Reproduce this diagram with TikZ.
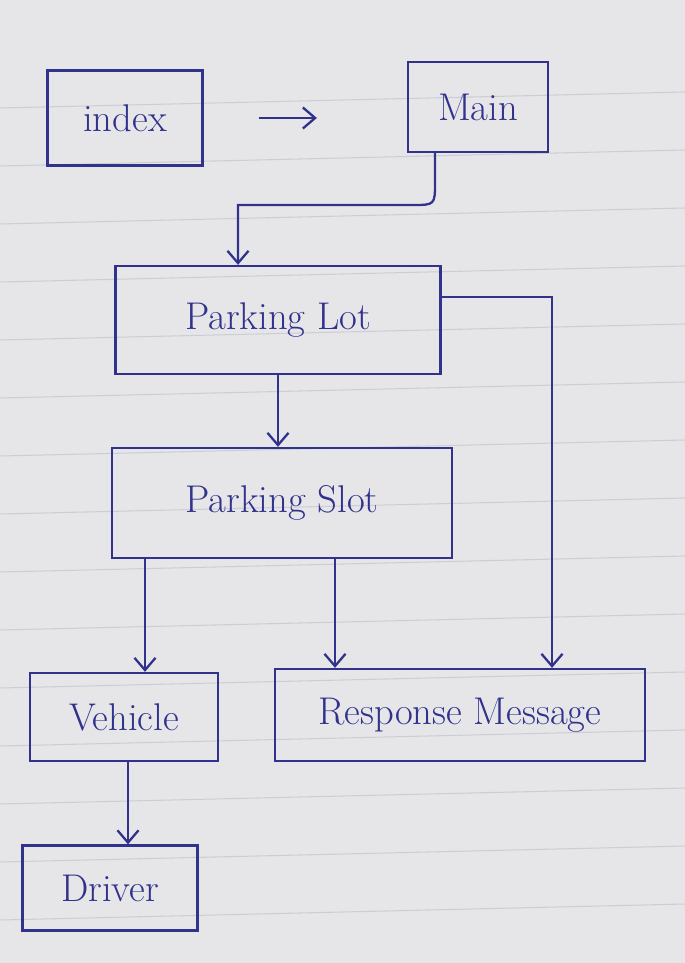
\documentclass[tikz,border=0pt]{standalone}
\usetikzlibrary{arrows.meta}
\definecolor{ink}{RGB}{48,50,140}
\definecolor{paper}{RGB}{230,230,233}
\definecolor{rule}{RGB}{205,206,212}
\tikzset{
  box/.style={draw=ink, line width=1.3pt, rectangle, text=ink, font=\fontsize{22}{26}\selectfont, inner sep=0pt},
  arr/.style={draw=ink, line width=1.3pt, -{Straight Barb[length=7pt,width=12pt]}},
}
\begin{document}
\begin{tikzpicture}[x=0.02cm, y=-0.02cm]
\fill[paper] (0,0) rectangle (685,963);
\useasboundingbox (0,0) rectangle (685,963);
\foreach \yy in {108,166,224,282,340,398,456,514,572,630,688,746,804,862,920}
  \draw[rule, line width=0.6pt] (0,\yy) -- (685,\yy-16);

\node[box, minimum width=155*0.02cm, minimum height=95*0.02cm] (index) at (125,118) {index};
\node[box, minimum width=140*0.02cm, minimum height=90*0.02cm] (main) at (478,107) {Main};
\node[box, minimum width=325*0.02cm, minimum height=108*0.02cm] (lot) at (278,320) {Parking Lot};
\node[box, minimum width=340*0.02cm, minimum height=110*0.02cm] (slot) at (282,503) {Parking Slot};
\node[box, minimum width=188*0.02cm, minimum height=88*0.02cm] (vehicle) at (124,717) {Vehicle};
\node[box, minimum width=370*0.02cm, minimum height=92*0.02cm] (resp) at (460,715) {Response Message};
\node[box, minimum width=175*0.02cm, minimum height=85*0.02cm] (driver) at (110,888) {Driver};

\coordinate (m0) at (435,182);
\coordinate (m1) at (435,205);
\coordinate (m2) at (412,205);
\coordinate (c1) at (238,205);
\coordinate (c2) at (552,297);

\draw[arr, shorten <=1.1cm, shorten >=1.8cm] (index.east) -- (main.west |- index.east);
\draw[arr] (main.south -| m1) -- (m0) .. controls (m1) .. (m2) -- (c1) -- (lot.north -| c1);
\draw[arr] (lot.east |- c2) -- (c2) -- (resp.north -| c2);
\draw[arr] (lot.south) -- (slot.north -| lot.south);
\draw[arr] (slot.south -| 145,0) -- (vehicle.north -| 145,0);
\draw[arr] (slot.south -| 335,0) -- (resp.north -| 335,0);
\draw[arr] (vehicle.south -| 128,0) -- (driver.north -| 128,0);
\end{tikzpicture}
\end{document}
